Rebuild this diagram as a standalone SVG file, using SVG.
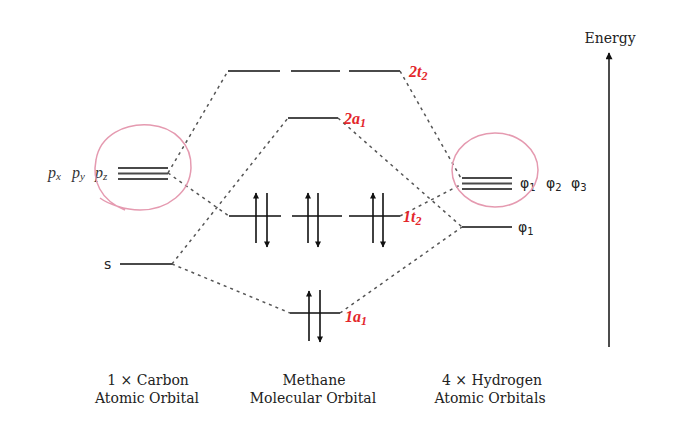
<svg xmlns="http://www.w3.org/2000/svg" width="700" height="439" viewBox="0 0 700 439">
<defs>
<style>
.lvl{stroke:#4a4a4a;stroke-width:2;fill:none}
.dash{stroke:#555;stroke-width:1.5;stroke-dasharray:3,4;fill:none}
.e{stroke:#111;stroke-width:1.6;fill:none}
.lab{font-family:"DejaVu Serif","Liberation Serif",serif;font-size:14px;fill:#222}
.red{font-family:"Liberation Serif",serif;font-size:16px;font-weight:bold;font-style:italic;fill:#e3262b}
.phi{font-family:"DejaVu Sans","Liberation Sans",sans-serif;font-size:14px;fill:#222}
.p{font-family:"Liberation Serif",serif;font-style:italic;font-size:16px;fill:#333}
.circ{stroke:#e59ab0;stroke-width:1.5;fill:none}
</style>
<marker id="ah" viewBox="0 0 10 10" refX="9" refY="5" markerWidth="7" markerHeight="6" orient="auto" markerUnits="userSpaceOnUse">
<path d="M0,0 L10,5 L0,10 z" fill="#111"/>
</marker>
<marker id="ahE" viewBox="0 0 10 10" refX="9" refY="5" markerWidth="9" markerHeight="7" orient="auto" markerUnits="userSpaceOnUse">
<path d="M0,0 L10,5 L0,10 z" fill="#111"/>
</marker>
</defs>
<rect width="700" height="439" fill="#fff"/>

<g id="connectors">
<line class="dash" x1="168" y1="173" x2="228" y2="71"/>
<line class="dash" x1="168" y1="173" x2="229" y2="216"/>
<line class="dash" x1="172" y1="264" x2="288" y2="118"/>
<line class="dash" x1="172" y1="264" x2="290" y2="313"/>
<line class="dash" x1="400" y1="71" x2="462" y2="180"/>
<line class="dash" x1="400" y1="216" x2="462" y2="184"/>
<line class="dash" x1="338" y1="118" x2="462" y2="227"/>
<line class="dash" x1="340" y1="313" x2="462" y2="227"/>
</g>

<g id="carbon-p">
<text class="p" x="48" y="178">p<tspan font-size="11" dy="2">x</tspan></text>
<text class="p" x="72" y="178">p<tspan font-size="11" dy="2">y</tspan></text>
<text class="p" x="95" y="178">p<tspan font-size="11" dy="2">z</tspan></text>
<line class="lvl" x1="118" y1="168" x2="168" y2="168"/>
<line class="lvl" x1="118" y1="173.5" x2="168" y2="173.5"/>
<line class="lvl" x1="118" y1="179" x2="168" y2="179"/>
</g>

<g id="carbon-s">
<text class="phi" x="104" y="269" font-size="12">s</text>
<line class="lvl" x1="120" y1="264" x2="172" y2="264"/>
</g>

<g id="mo-2t2">
<line class="lvl" x1="228" y1="71" x2="280" y2="71"/>
<line class="lvl" x1="291" y1="71" x2="340" y2="71"/>
<line class="lvl" x1="349" y1="71" x2="400" y2="71"/>
<text class="red" x="409" y="77">2t<tspan font-size="12" dy="3">2</tspan></text>
</g>

<g id="mo-2a1">
<line class="lvl" x1="288" y1="118" x2="338" y2="118"/>
<text class="red" x="344" y="124">2a<tspan font-size="12" dy="3">1</tspan></text>
</g>

<g id="mo-1t2">
<line class="lvl" x1="229" y1="216" x2="281" y2="216"/>
<line class="lvl" x1="292" y1="216" x2="342" y2="216"/>
<line class="lvl" x1="349" y1="216" x2="400" y2="216"/>
<line class="e" x1="256" y1="243" x2="256" y2="193" marker-end="url(#ah)"/>
<line class="e" x1="267" y1="193" x2="267" y2="247" marker-end="url(#ah)"/>
<line class="e" x1="308" y1="243" x2="308" y2="193" marker-end="url(#ah)"/>
<line class="e" x1="318" y1="193" x2="318" y2="247" marker-end="url(#ah)"/>
<line class="e" x1="373" y1="243" x2="373" y2="193" marker-end="url(#ah)"/>
<line class="e" x1="383" y1="193" x2="383" y2="247" marker-end="url(#ah)"/>
<text class="red" x="403" y="222">1t<tspan font-size="12" dy="3">2</tspan></text>
</g>

<g id="mo-1a1">
<line class="lvl" x1="290" y1="313" x2="340" y2="313"/>
<line class="e" x1="309" y1="341" x2="309" y2="291" marker-end="url(#ah)"/>
<line class="e" x1="320" y1="290" x2="320" y2="342" marker-end="url(#ah)"/>
<text class="red" x="345" y="322">1a<tspan font-size="12" dy="3">1</tspan></text>
</g>

<g id="hydrogen-t2">
<line class="lvl" x1="462" y1="178" x2="512" y2="178"/>
<line class="lvl" x1="462" y1="183.5" x2="512" y2="183.5"/>
<line class="lvl" x1="462" y1="189" x2="512" y2="189"/>
<text class="phi" x="520" y="188">φ<tspan font-size="10" dy="3">1</tspan></text>
<text class="phi" x="546" y="188">φ<tspan font-size="10" dy="3">2</tspan></text>
<text class="phi" x="571" y="188">φ<tspan font-size="10" dy="3">3</tspan></text>
</g>

<g id="hydrogen-a1">
<line class="lvl" x1="462" y1="227" x2="512" y2="227"/>
<text class="phi" x="518" y="232">φ<tspan font-size="10" dy="3">1</tspan></text>
</g>

<g id="circles">
<path class="circ" d="M125,210 C100,200 92,180 96,160 C100,135 125,123 150,125 C175,127 192,145 191,168 C190,192 168,210 140,210 C125,210 108,204 100,198"/>
<ellipse class="circ" cx="495" cy="170" rx="43" ry="37"/>
</g>

<g id="energy">
<line x1="609" y1="347" x2="609" y2="53" stroke="#111" stroke-width="1.5" marker-end="url(#ahE)"/>
<text class="lab" x="610" y="43" text-anchor="middle">Energy</text>
</g>

<g id="labels">
<text class="lab" x="148" y="385" text-anchor="middle">1 × Carbon</text>
<text class="lab" x="147" y="403" text-anchor="middle">Atomic Orbital</text>
<text class="lab" x="314" y="385" text-anchor="middle">Methane</text>
<text class="lab" x="313" y="403" text-anchor="middle">Molecular Orbital</text>
<text class="lab" x="492" y="385" text-anchor="middle">4 × Hydrogen</text>
<text class="lab" x="490" y="403" text-anchor="middle">Atomic Orbitals</text>
</g>
</svg>
